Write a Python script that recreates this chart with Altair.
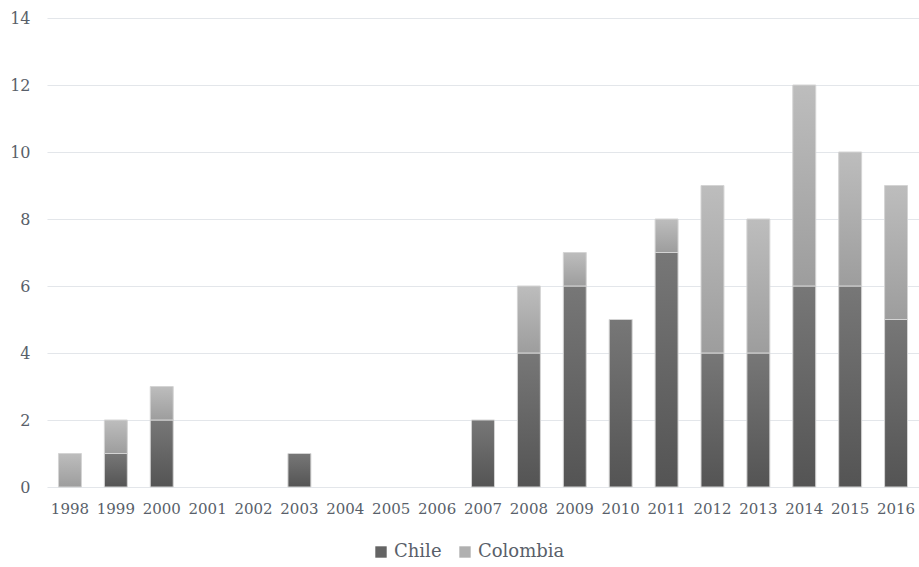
import altair as alt
import pandas as pd

years = [str(y) for y in range(1998, 2017)]
chile = [0, 1, 2, 0, 0, 1, 0, 0, 0, 2, 4, 6, 5, 7, 4, 4, 6, 6, 5]
colombia = [1, 1, 1, 0, 0, 0, 0, 0, 0, 0, 2, 1, 0, 1, 5, 4, 6, 4, 4]
series = ["Chile", "Colombia"]

df = pd.DataFrame({"year": years, "Chile": chile, "Colombia": colombia})

FONT = "DejaVu Serif"
LABEL = "#595f6a"

x = alt.X("year:N", sort=years, title=None,
          scale=alt.Scale(domain=years, paddingInner=0.5, paddingOuter=0.25),
          axis=alt.Axis(labelAngle=0, domain=False, ticks=False, labelPadding=14, grid=False,
                        labelFontSize=15))
yscale = alt.Scale(domain=[0, 14])
yaxis = alt.Axis(values=list(range(0, 15, 2)), domain=False, ticks=False, labelPadding=17,
                 gridColor="#e3e6ea", gridWidth=1.2, labelFontSize=16)

def grad(top, bottom):
    return alt.LinearGradient(gradient="linear", x1=0, x2=0, y1=0, y2=1,
                              stops=[alt.GradientStop(color=top, offset=0),
                                     alt.GradientStop(color=bottom, offset=1)])

base = alt.Chart(df)

chile_bars = base.transform_filter("datum.Chile > 0").mark_bar(
    fill=grad("#777777", "#545454"), stroke="#d4d4d4", strokeWidth=1
).encode(
    x=x,
    y=alt.Y("Chile:Q", scale=yscale, axis=yaxis, title=None),
    y2=alt.Y2(datum=0),
)

col_bars = base.transform_filter("datum.Colombia > 0").transform_calculate(
    top="datum.Chile + datum.Colombia"
).mark_bar(
    fill=grad("#bdbdbd", "#9d9d9d"), stroke="#d4d4d4", strokeWidth=1
).encode(
    x=x,
    y=alt.Y("top:Q", scale=yscale, axis=yaxis, title=None),
    y2="Chile:Q",
)

legend_layer = base.transform_fold(series, as_=["series", "v"]).mark_square(
    size=0, opacity=1, filled=True, strokeWidth=0
).encode(
    x=x,
    y=alt.Y("v:Q", scale=yscale, axis=yaxis, title=None),
    color=alt.Color("series:N", sort=series,
                    scale=alt.Scale(domain=series, range=["#646464", "#b0b0b0"]),
                    legend=alt.Legend(title=None, orient="none", direction="horizontal",
                                      legendX=325, legendY=525, symbolType="square",
                                      symbolSize=130, symbolStrokeWidth=0, symbolOpacity=1,
                                      labelOffset=4, columnPadding=14)),
)

chart = alt.layer(chile_bars, col_bars, legend_layer).properties(
    width=872, height=469,
    autosize=alt.AutoSizeParams(type="none"),
    padding={"left": 47, "top": 18, "right": 0, "bottom": 80},
).configure(
    background="white", font=FONT
).configure_view(
    stroke="transparent", strokeWidth=0
).configure_axis(
    labelFont=FONT, labelColor=LABEL, domain=False
).configure_legend(
    labelFont=FONT, labelFontSize=18, labelColor=LABEL
)

chart.save("out.html", embed_options={"renderer": "svg", "actions": False})
